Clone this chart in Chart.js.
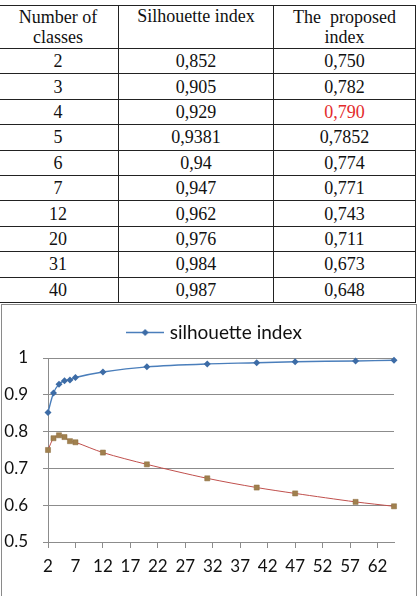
<!DOCTYPE html>
<html>
<head>
<meta charset="utf-8">
<title>Silhouette index</title>
<script src="https://cdn.jsdelivr.net/npm/chart.js@4.4.0/dist/chart.umd.min.js"></script>
<style>
html, body { margin: 0; padding: 0; background: #fff; width: 420px; height: 596px; overflow: hidden; position: relative; }
#tbl { position: absolute; left: -3px; top: 5px; width: 418px; border-collapse: collapse; table-layout: fixed;
       font-family: "Liberation Serif", "Times New Roman", serif; font-size: 18px; color: #111; }
#tbl td { border: 1px solid #222; text-align: center; padding: 0; height: 24.4px; line-height: 20px; }
#tbl tr.head td { height: 42px; }
#tbl td.red { color: #e32b2b; }
#box { position: absolute; left: 1px; top: 304px; width: 414px; height: 300px; border: 1px solid #8a8a8a; }
</style>
</head>
<body>
<table id="tbl">
  <colgroup><col style="width:121px"><col style="width:155px"><col style="width:142px"></colgroup>
  <tbody id="tbody">
    <tr class="head"><td>Number of<br>classes</td><td style="vertical-align:top">Silhouette index</td><td>The&nbsp; proposed<br>index</td></tr>
  </tbody>
</table>
<div id="box"><canvas id="graph" width="414" height="300"></canvas></div>
<script>
'use strict';

// Valeurs du tableau (telles qu'imprimées)
const tableClasses = ['2', '3', '4', '5', '6', '7', '12', '20', '31', '40'];
const tableSilhouette = ['0,852', '0,905', '0,929', '0,9381', '0,94', '0,947', '0,962', '0,976', '0,984', '0,987'];
const tableProposed = ['0,750', '0,782', '0,790', '0,7852', '0,774', '0,771', '0,743', '0,711', '0,673', '0,648'];
const redRow = 2; // la valeur 0,790 est en rouge

// Valeurs du graphique
const nbClasses = [2, 3, 4, 5, 6, 7, 12, 20, 31, 40, 47, 58, 65];
const silhouetteValues = [0.852, 0.905, 0.929, 0.9381, 0.94, 0.947, 0.962, 0.976, 0.984, 0.987, 0.990, 0.992, 0.994];
const proposedValues = [0.750, 0.782, 0.790, 0.7852, 0.774, 0.771, 0.743, 0.711, 0.673, 0.648, 0.632, 0.609, 0.597];
const xTickValues = [2, 7, 12, 17, 22, 27, 32, 37, 42, 47, 52, 57, 62];
const seriesNames = ['silhouette index', 'The proposed index'];

// Remplit le tableau
const tbody = document.getElementById('tbody');
tableClasses.forEach((c, i) => {
    const tr = document.createElement('tr');
    [c, tableSilhouette[i], tableProposed[i]].forEach((txt, j) => {
        const td = document.createElement('td');
        td.textContent = txt;
        if (j === 2 && i === redRow) td.className = 'red';
        tr.appendChild(td);
    });
    tbody.appendChild(tr);
});

// Petit dessin de légende façon Excel : trait + losange
function legendSymbol() {
    const c = document.createElement('canvas');
    c.width = 38; c.height = 9;
    const g = c.getContext('2d');
    g.strokeStyle = '#4a7ebb';
    g.lineWidth = 1.5;
    g.beginPath(); g.moveTo(0, 4.5); g.lineTo(38, 4.5); g.stroke();
    g.fillStyle = '#3d6ca6';
    g.beginPath(); g.moveTo(19, 1); g.lineTo(22.5, 4.5); g.lineTo(19, 8); g.lineTo(15.5, 4.5); g.closePath(); g.fill();
    return c;
}

// Ajoute de l'espace sous la légende et la décale un peu à droite
const legendTweak = {
    id: 'legendTweak',
    beforeInit(chart) {
        const fit = chart.legend.fit;
        chart.legend.fit = function () {
            fit.bind(chart.legend)();
            this.height += 6;
        };
    },
    afterLayout(chart) {
        chart.legend.left += 18;
        chart.legend.right += 18;
    }
};

const gridColor = '#8c8c8c';
const tickFont = { family: 'Lato', size: 17 };

new Chart(document.getElementById('graph').getContext('2d'), {
    type: 'line',
    data: {
        datasets: [{
            label: seriesNames[0],
            data: nbClasses.map((x, i) => ({ x: x, y: silhouetteValues[i] })),
            borderColor: '#4a7ebb',
            backgroundColor: '#3d6ca6',
            borderWidth: 1.4,
            pointStyle: 'rectRot',
            pointRadius: 3.5,
            pointBorderWidth: 0,
            tension: 0.3,
            clip: false
        }, {
            label: seriesNames[1],
            data: nbClasses.map((x, i) => ({ x: x, y: proposedValues[i] })),
            borderColor: '#c0504d',
            backgroundColor: '#a0804e',
            pointBorderColor: '#8c6d3f',
            borderWidth: 1,
            pointStyle: 'rect',
            pointRadius: 3.6,
            pointBorderWidth: 0.5,
            tension: 0.3,
            clip: false
        }]
    },
    options: {
        responsive: false,
        animation: false,
        layout: { padding: { top: 8, right: 22, left: 0, bottom: 0 } },
        plugins: {
            legend: {
                display: true,
                position: 'top',
                labels: {
                    usePointStyle: true,
                    pointStyle: legendSymbol(),
                    pointStyleWidth: 30,
                    padding: 10,
                    color: '#111',
                    font: { family: 'Lato', size: 19 },
                    filter: item => item.datasetIndex === 0
                }
            },
            tooltip: { enabled: false }
        },
        scales: {
            x: {
                type: 'linear',
                min: 2,
                max: 65,
                afterBuildTicks: scale => { scale.ticks = xTickValues.map(v => ({ value: v })); },
                afterFit: scale => { scale.height = 63; },
                grid: { drawOnChartArea: false, drawTicks: true, tickLength: 6, color: gridColor },
                border: { color: gridColor, width: 1 },
                ticks: { color: '#111', font: tickFont, padding: 8, maxRotation: 0, autoSkip: false }
            },
            y: {
                min: 0.5,
                max: 1,
                afterFit: scale => { scale.width = 46; },
                grid: { color: gridColor, tickLength: 5, lineWidth: 1 },
                border: { color: gridColor, width: 1 },
                ticks: {
                    stepSize: 0.1, color: '#111', font: tickFont, padding: 15,
                    callback: v => String(Number(v.toFixed(1)))
                }
            }
        }
    },
    plugins: [legendTweak]
});
</script>
</body>
</html>
